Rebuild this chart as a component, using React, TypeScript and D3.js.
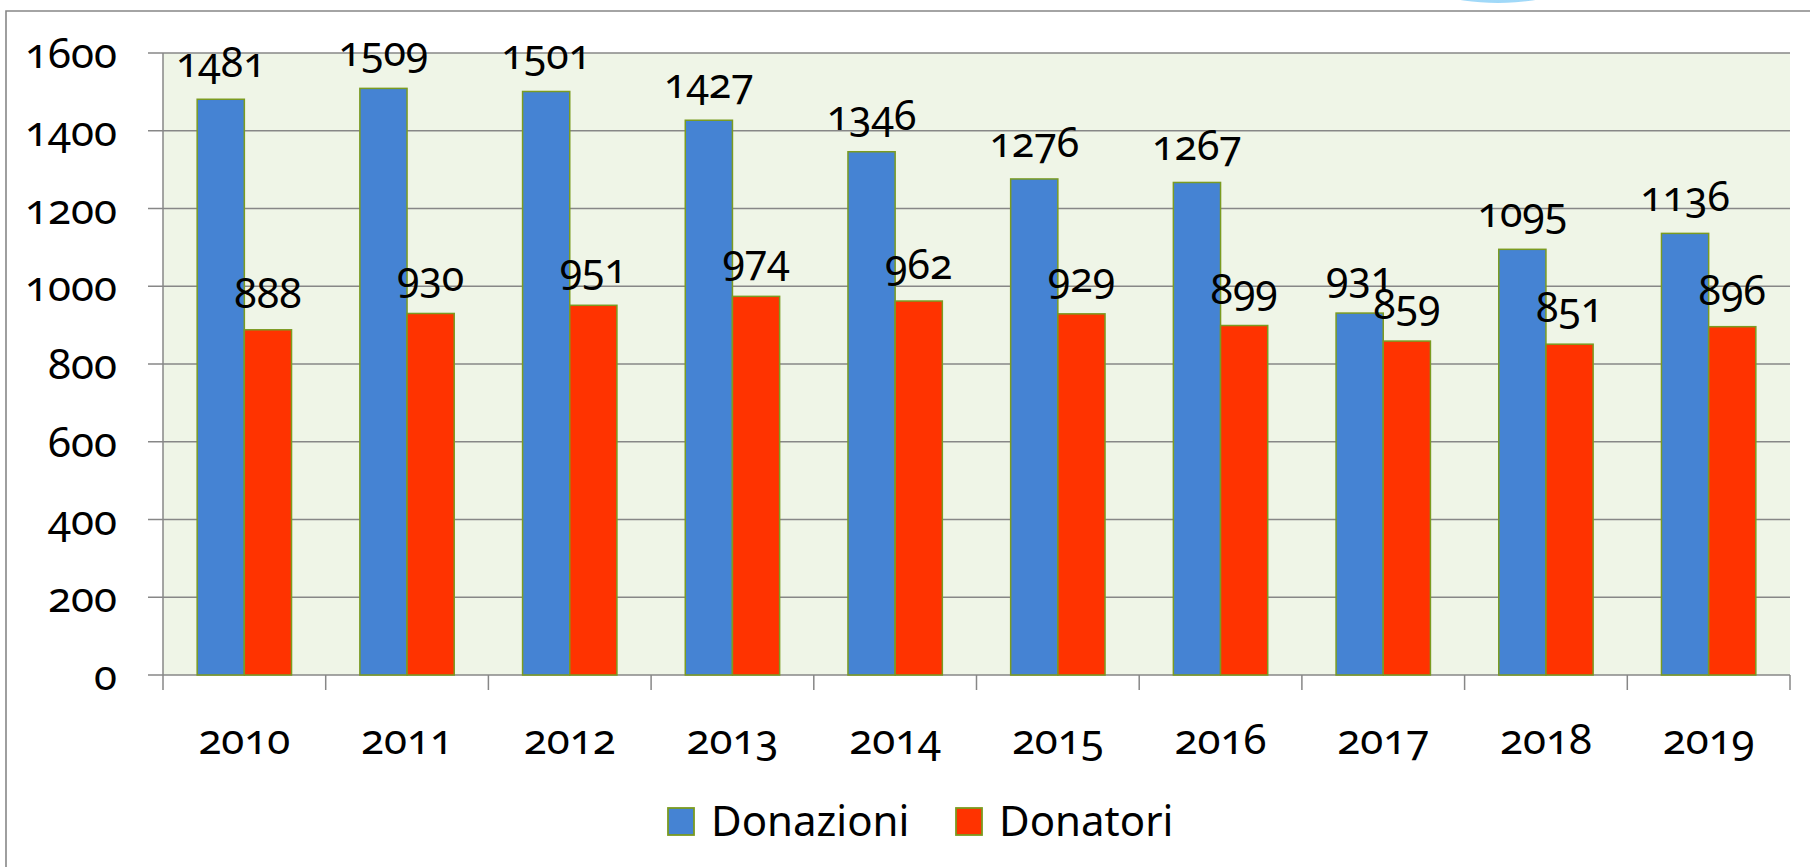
import React from "react";
import * as d3 from "d3";

const years = ["2010", "2011", "2012", "2013", "2014", "2015", "2016", "2017", "2018", "2019"];
const donazioni = [1481, 1509, 1501, 1427, 1346, 1276, 1267, 931, 1095, 1136];
const donatori = [888, 930, 951, 974, 962, 929, 899, 859, 851, 896];
const yTicks = [0, 200, 400, 600, 800, 1000, 1200, 1400, 1600];
const seriesNames = ["Donazioni", "Donatori"];
const seriesColors = ["#4583d3", "#ff3300"];

const W = 1810;
const H = 867;
const M = { left: 163, right: 1790, top: 53, bottom: 675 };
const FONT = "'Noto Sans', 'Open Sans', sans-serif";
const GRID = "#878787";
const EDGE = "#7b9b21";

export default function App() {
  const x = d3.scaleBand<string>().domain(years).range([M.left, M.right]).padding(0);
  const y = d3.scaleLinear().domain([0, 1600]).range([M.bottom, M.top]);
  const bw = x.bandwidth();
  const barW = bw * 0.29;
  const off = (bw - 2 * barW) / 2;
  const series = [donazioni, donatori];
  const numStyle: React.CSSProperties = { fontVariantNumeric: "oldstyle-nums", fontFeatureSettings: "'onum' 1" };

  return (
    <svg width={W} height={H} style={{ position: "fixed", left: 0, top: 0, background: "#fff" }} fontFamily={FONT}>
      <defs>
        <linearGradient id="blob" x1="0" y1="0" x2="0" y2="1">
          <stop offset="0" stopColor="#cfeefe" />
          <stop offset="1" stopColor="#9fd8f8" />
        </linearGradient>
      </defs>
      <ellipse cx={1498} cy={-30} rx={90} ry={33} fill="url(#blob)" />
      {/* outer frame */}
      <path d={`M6,${H + 2} V11 H${W + 2}`} fill="none" stroke={GRID} strokeWidth={1.6} />
      {/* plot background */}
      <rect x={M.left} y={M.top} width={M.right - M.left} height={M.bottom - M.top} fill="#eff5e7" />
      {/* gridlines with tick extensions */}
      {yTicks.map((t) => (
        <line key={"g" + t} x1={148} x2={M.right} y1={y(t)} y2={y(t)} stroke={GRID} strokeWidth={1.5} />
      ))}
      {/* y axis */}
      <line x1={M.left} x2={M.left} y1={M.top} y2={M.bottom + 15} stroke={GRID} strokeWidth={1.5} />
      {/* x ticks */}
      {years.map((yr) => (
        <line key={"xt" + yr} x1={x(yr)! + bw} x2={x(yr)! + bw} y1={M.bottom} y2={M.bottom + 15} stroke={GRID} strokeWidth={1.5} />
      ))}
      {/* y labels */}
      {yTicks.map((t) => (
        <text key={"yl" + t} x={117} y={y(t) + 15} textAnchor="end" fontSize={42} fill="#000" style={numStyle}>
          {t}
        </text>
      ))}
      {/* bars */}
      {years.map((yr, i) =>
        series.map((s, k) => (
          <rect
            key={yr + k}
            x={x(yr)! + off + k * barW}
            y={y(s[i])}
            width={barW}
            height={M.bottom - y(s[i])}
            fill={seriesColors[k]}
            stroke={EDGE}
            strokeWidth={1.5}
          />
        ))
      )}
      {/* data labels */}
      {years.map((yr, i) =>
        series.map((s, k) => (
          <text
            key={"dl" + yr + k}
            x={x(yr)! + off + k * barW + barW / 2}
            y={y(s[i]) - 22}
            textAnchor="middle"
            fontSize={41}
            fill="#000"
            style={numStyle}
          >
            {s[i]}
          </text>
        ))
      )}
      {/* x labels */}
      {years.map((yr) => (
        <text key={"xl" + yr} x={x(yr)! + bw / 2} y={754} textAnchor="middle" fontSize={42} fill="#000" style={numStyle}>
          {yr}
        </text>
      ))}
      {/* legend */}
      {seriesNames.map((n, k) => {
        const lx = k === 0 ? 668 : 956;
        return (
          <g key={"lg" + n}>
            <rect x={lx} y={808} width={26} height={27} fill={seriesColors[k]} stroke={EDGE} strokeWidth={1.8} />
            <text x={lx + 43} y={836} fontSize={42} fill="#000">
              {n}
            </text>
          </g>
        );
      })}
    </svg>
  );
}
